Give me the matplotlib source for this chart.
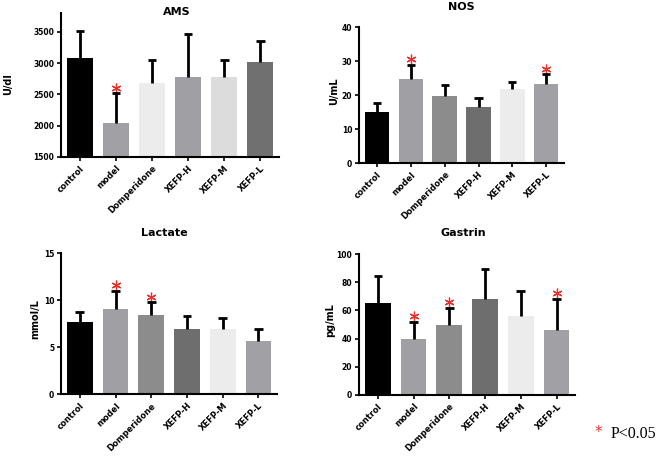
import matplotlib.pyplot as plt
import matplotlib.transforms as mtransforms
import numpy as np

groups = ["control", "model", "Domperidone", "XEFP-H", "XEFP-M", "XEFP-L"]

ams_mean = [3085, 2050, 2680, 2785, 2785, 3015]
ams_err = [430, 470, 365, 685, 265, 340]
ams_sig = [False, True, False, False, False, False]

nos_mean = [15.1, 24.9, 19.8, 16.4, 21.8, 23.3]
nos_err = [2.6, 4.1, 3.2, 2.7, 2.1, 2.9]
nos_sig = [False, True, False, False, False, True]

lac_mean = [7.73, 9.04, 8.44, 6.95, 6.95, 5.7]
lac_err = [1.07, 1.96, 1.36, 1.38, 1.15, 1.25]
lac_sig = [False, True, True, False, False, False]

gas_mean = [65.5, 40.0, 49.9, 68.1, 56.0, 45.9]
gas_err = [18.9, 11.8, 12.0, 21.3, 17.8, 22.2]
gas_sig = [False, True, True, False, False, True]

ams_colors = ["#000000", "#a0a0a5", "#ececec", "#a0a0a4", "#dcdcdc", "#707070"]
other_colors = ["#000000", "#a0a0a4", "#8c8c8c", "#6e6e6e", "#ececec", "#a0a0a5"]

star_color = "#e8302a"

fig = plt.figure(figsize=(6.58, 4.57), dpi=100)


def panel(rect, title, title_xy, ylabel, ylabel_xy, mean, err, sig, colors, ylim, yticks):
    ax = fig.add_axes(rect)
    x = np.arange(len(groups))
    mean = np.array(mean)
    top = mean + np.array(err)
    ax.bar(x, mean - ylim[0], bottom=ylim[0], width=0.72, color=colors, zorder=2)
    # upper error bars only
    ax.vlines(x, mean, top, color="black", linewidth=2, zorder=3)
    ax.hlines(top, x - 0.12, x + 0.12, color="black", linewidth=2, zorder=3)
    # significance stars just above the caps
    shifted = mtransforms.offset_copy(ax.transData, fig=fig, x=0, y=5.5, units="dots")
    sx = x[np.array(sig)]
    sy = top[np.array(sig)]
    ax.plot(sx, sy, linestyle="none", marker=(6, 2, 0), markersize=7,
            markeredgewidth=0.9, color=star_color, transform=shifted, clip_on=False)
    ax.set_xlim(-0.52, len(groups) - 0.48)
    ax.set_ylim(*ylim)
    ax.set_yticks(yticks)
    ax.set_xticks(x)
    ax.set_xticklabels(groups, rotation=45, ha="right", rotation_mode="anchor",
                       fontsize=6, fontweight="bold")
    for lab in ax.get_yticklabels():
        lab.set_fontsize(5.5)
        lab.set_fontweight("bold")
    ax.spines["top"].set_visible(False)
    ax.spines["right"].set_visible(False)
    ax.spines["left"].set_linewidth(1.5)
    ax.spines["bottom"].set_linewidth(1.5)
    ax.tick_params(width=1.2, length=3, pad=2)
    ax.text(title_xy[0], title_xy[1], title, transform=ax.transAxes, ha="center",
            va="center", fontsize=8, fontweight="bold")
    ax.text(ylabel_xy[0], ylabel_xy[1], ylabel, transform=ax.transAxes, ha="center",
            va="center", rotation=90, fontsize=7, fontweight="bold")
    return ax


panel([0.093, 0.6565, 0.331, 0.315], "AMS", (0.532, 1.007), "U/dl", (-0.243, 0.507),
      ams_mean, ams_err, ams_sig, ams_colors, (1500, 3800), [1500, 2000, 2500, 3000, 3500])
panel([0.546, 0.6433, 0.311, 0.297], "NOS", (0.5, 1.15), "U/mL", (-0.124, 0.53),
      nos_mean, nos_err, nos_sig, other_colors, (0, 40), [0, 10, 20, 30, 40])
panel([0.093, 0.1372, 0.328, 0.3085], "Lactate", (0.477, 1.144), "mmol/L", (-0.12, 0.534),
      lac_mean, lac_err, lac_sig, other_colors, (0, 15), [0, 5, 10, 15])
panel([0.546, 0.1357, 0.328, 0.3085], "Gastrin", (0.48, 1.149), "pg/mL", (-0.136, 0.53),
      gas_mean, gas_err, gas_sig, other_colors, (0, 100), [0, 20, 40, 60, 80, 100])

# legend note
fig.text(598 / 658, 1 - 433 / 457, "*", color=star_color, fontsize=11,
         ha="center", va="center")
fig.text(611 / 658, 1 - 434 / 457, "P<0.05", fontsize=11.5, family="Liberation Serif",
         ha="left", va="center")

fig.savefig("out.png", dpi=100)
